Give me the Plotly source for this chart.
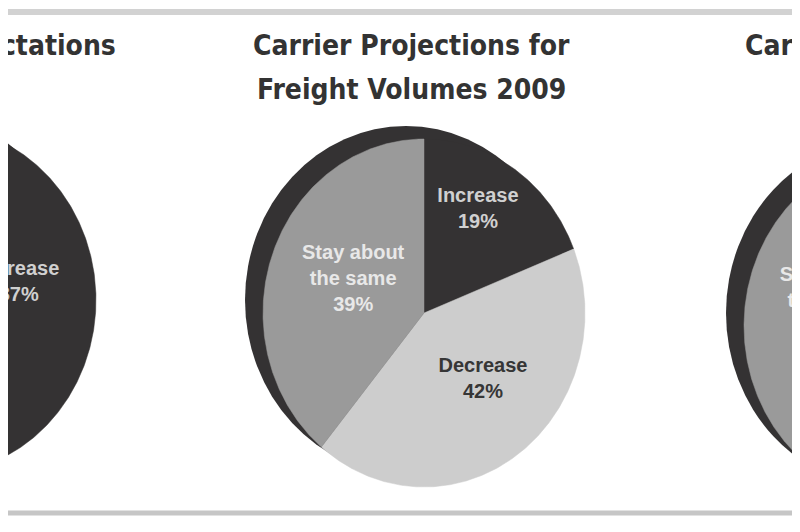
import numpy as np
import plotly.graph_objects as go

# --- data -------------------------------------------------------------
categories = ["Increase", "Decrease", "Stay about the same"]
slice_labels = ["Increase", "Decrease", "Stay about<br>the same"]

titles = [
    ["Shipper Rate Expectations"],
    ["Carrier Projections for", "Freight Volumes 2009"],
    ["Carrier Rate Projections for 2009"],
]
shipper_pct = [87, 3, 10]
volume_pct = [19, 42, 39]
carrier_rate_pct = [21, 39, 40]

# --- look ---------------------------------------------------------------
W, H = 800, 532
PAGE_PAD = 8               # browser body margin; axes are shifted so units = page pixels
RX, RY = 161, 174          # scanned pies are a little taller than wide
SHADOW = (-18, -13)        # dark disc peeking out behind each pie

colors = {"Increase": "#343233", "Decrease": "#cdcdcd", "Stay about the same": "#9a9a9a"}
text_colors = {"Increase": "#d0d0d0", "Decrease": "#363636", "Stay about the same": "#e8e8e8"}
TITLE_FONT = dict(family="DejaVu Sans Condensed, Liberation Sans Narrow, sans-serif",
                  size=28, color="#333333", weight="bold")
TITLE_LINE_Y = [45, 89]    # print has loose leading, so lines are placed one by one
LABEL_FONT = dict(family="Liberation Sans, Arial, sans-serif", size=20, weight="bold")

# the scan is a crop: only the middle pie is whole
pies = [
    dict(values=shipper_pct, center=(-65, 300), title=titles[0], title_x=118, anchor="right",
         label_at={"Increase": (0.52, -0.10)}),
    dict(values=volume_pct, center=(424, 313), title=titles[1], title_x=411, anchor="center",
         label_at={"Increase": (0.335, -0.59), "Decrease": (0.366, 0.385),
                   "Stay about the same": (-0.44, -0.19)}),
    dict(values=carrier_rate_pct, center=(905, 326), title=titles[2], title_x=743, anchor="left",
         label_at={"Stay about the same": (-0.46, -0.14)}),
]


def wedge(cx, cy, a0, a1):
    # angles in degrees, clockwise from 12 o'clock
    t = np.radians(np.linspace(a0, a1, max(int(a1 - a0) * 2, 4)))
    xs = np.concatenate([[cx], cx + RX * np.sin(t), [cx]])
    ys = np.concatenate([[cy], cy - RY * np.cos(t), [cy]])
    return xs, ys


fig = go.Figure()

for p in pies:
    cx, cy = p["center"]
    fig.add_shape(type="circle", xref="x", yref="y", layer="below",
                  x0=cx + SHADOW[0] - RX, x1=cx + SHADOW[0] + RX,
                  y0=cy + SHADOW[1] - RY, y1=cy + SHADOW[1] + RY,
                  fillcolor=colors["Increase"], line=dict(width=0))

    vals = np.array(p["values"], dtype=float)
    edges = np.concatenate([[0], np.cumsum(vals) / vals.sum() * 360])
    for i, cat in enumerate(categories):
        xs, ys = wedge(cx, cy, edges[i], edges[i + 1])
        fig.add_trace(go.Scatter(x=xs, y=ys, mode="lines", fill="toself",
                                 fillcolor=colors[cat], line=dict(color=colors[cat], width=0.5),
                                 hoverinfo="skip", showlegend=False))

    for i, cat in enumerate(categories):
        if cat in p["label_at"]:
            fx, fy = p["label_at"][cat]
        else:
            mid = np.radians((edges[i] + edges[i + 1]) / 2)
            fx, fy = 0.55 * np.sin(mid), -0.55 * np.cos(mid)
        fig.add_trace(go.Scatter(
            x=[cx + fx * RX], y=[cy + fy * RY], mode="text",
            text=[f"{slice_labels[i]}<br>{p['values'][i]}%"],
            textposition="middle center",
            textfont=dict(LABEL_FONT, color=text_colors[cat]),
            hoverinfo="skip", showlegend=False))

    for k, line in enumerate(p["title"]):
        fig.add_annotation(x=p["title_x"], y=TITLE_LINE_Y[k], xref="x", yref="y", text=line,
                           xanchor=p["anchor"], yanchor="middle", showarrow=False,
                           font=TITLE_FONT)

# rules above and below the panel
fig.add_shape(type="line", xref="paper", yref="y", x0=0, x1=1, y0=12, y1=12,
              line=dict(color="#d2d2d2", width=6))
fig.add_shape(type="line", xref="paper", yref="y", x0=0, x1=1, y0=513, y1=513,
              line=dict(color="#c6c6c6", width=5))

fig.update_xaxes(range=[PAGE_PAD, W + PAGE_PAD], visible=False, fixedrange=True)
fig.update_yaxes(range=[H + PAGE_PAD, PAGE_PAD], visible=False, fixedrange=True)
fig.update_layout(width=W, height=H, margin=dict(l=0, r=0, t=0, b=0),
                  plot_bgcolor="white", paper_bgcolor="white")

fig.write_html("out.html")
